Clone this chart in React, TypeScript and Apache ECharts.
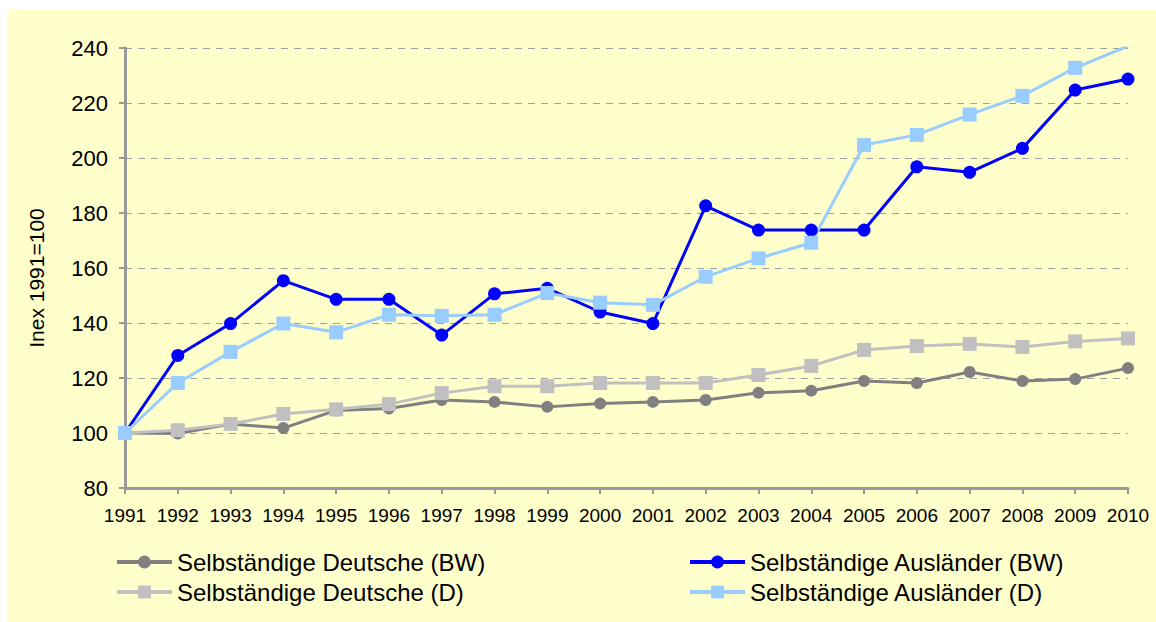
import React, { useEffect, useRef } from "react";
import * as echarts from "echarts";

const years = ["1991","1992","1993","1994","1995","1996","1997","1998","1999","2000","2001","2002","2003","2004","2005","2006","2007","2008","2009","2010"];
const deutscheBW = [100, 99.8, 103.3, 101.8, 108.2, 108.9, 112, 111.3, 109.5, 110.7, 111.3, 112, 114.6, 115.4, 118.9, 118.2, 122.2, 118.9, 119.6, 123.6];
const deutscheD = [100, 101, 103.3, 106.9, 108.6, 110.5, 114.5, 117, 117, 118.2, 118.2, 118.2, 121.1, 124.4, 130.2, 131.6, 132.4, 131.3, 133.3, 134.4];
const auslaenderBW = [100, 128.2, 139.8, 155.4, 148.6, 148.6, 135.6, 150.6, 152.6, 144, 139.8, 182.6, 173.8, 173.8, 173.8, 196.8, 194.8, 203.5, 224.7, 228.7];
const auslaenderD = [100, 118.2, 129.5, 139.8, 136.6, 143, 142.6, 143, 150.9, 147.4, 146.6, 156.8, 163.5, 169.2, 204.7, 208.4, 215.8, 222.6, 232.8, 240.7];
const yTicks = { min: 80, max: 240, interval: 20 };
const yName = "Inex 1991=100";

export default function App() {
  const ref = useRef<HTMLDivElement>(null);
  useEffect(() => {
    const chart = echarts.init(ref.current!, null, { renderer: "svg" });
    const font = "Arial, 'Liberation Sans', sans-serif";
    const mk = (name: string, data: number[], color: string, symbol: string, size: number) => ({
      name, type: "line", data, symbol, symbolSize: size,
      lineStyle: { color, width: 3 }, itemStyle: { color },
      emphasis: { disabled: true },
    });
    const legendBase = {
      orient: "horizontal", itemWidth: 55, itemHeight: 16, itemGap: 6,
      textStyle: { fontFamily: font, fontSize: 24, color: "#000" },
      lineStyle: { width: 4 },
      selectedMode: false, padding: 0,
    };
    chart.setOption({
      animation: false,
      backgroundColor: "#FFFFCC",
      grid: { left: 118, right: 28, top: 39, bottom: 134 },
      graphic: [
        {
          type: "text", x: 29, y: 269, rotation: Math.PI / 2,
          style: { text: yName, font: `21px ${font}`, fill: "#000", textAlign: "center", textVerticalAlign: "middle" },
        },
      ],
      xAxis: {
        type: "category", data: years, boundaryGap: false,
        axisLine: { lineStyle: { color: "#999999", width: 3 } },
        axisTick: { show: true, length: 6, lineStyle: { color: "#999999", width: 2 }, alignWithLabel: true },
        axisLabel: { color: "#000", fontFamily: font, fontSize: 19, margin: 18, interval: 0 },
        splitLine: { show: false },
      },
      yAxis: {
        type: "value", min: yTicks.min, max: yTicks.max, interval: yTicks.interval,
        axisLine: { show: true, lineStyle: { color: "#999999", width: 3 } },
        axisTick: { show: true, length: 6, lineStyle: { color: "#999999", width: 2 } },
        axisLabel: { color: "#000", fontFamily: font, fontSize: 22, margin: 17 },
        splitLine: { lineStyle: { color: "#A0A0A0", type: [7, 6], width: 1.2 } },
      },
      legend: [
        { ...legendBase, left: 108, top: 541, data: ["Selbständige Deutsche (BW)"] },
        { ...legendBase, left: 108, top: 571, data: ["Selbständige Deutsche (D)"] },
        { ...legendBase, left: 681, top: 541, data: ["Selbständige Ausländer (BW)"] },
        { ...legendBase, left: 681, top: 571, data: ["Selbständige Ausländer (D)"] },
      ],
      series: [
        mk("Selbständige Deutsche (BW)", deutscheBW, "#808080", "circle", 12),
        mk("Selbständige Deutsche (D)", deutscheD, "#C0C0C0", "rect", 14),
        mk("Selbständige Ausländer (BW)", auslaenderBW, "#0000FF", "circle", 13),
        mk("Selbständige Ausländer (D)", auslaenderD, "#99CCFF", "rect", 14),
      ],
    });
    return () => chart.dispose();
  }, []);
  return (
    <div style={{ position: "fixed", left: 0, top: 0, width: 1156, height: 622, background: "#fff" }}>
      <div ref={ref} style={{ position: "absolute", left: 7, top: 9, width: 1149, height: 613 }} />
    </div>
  );
}
